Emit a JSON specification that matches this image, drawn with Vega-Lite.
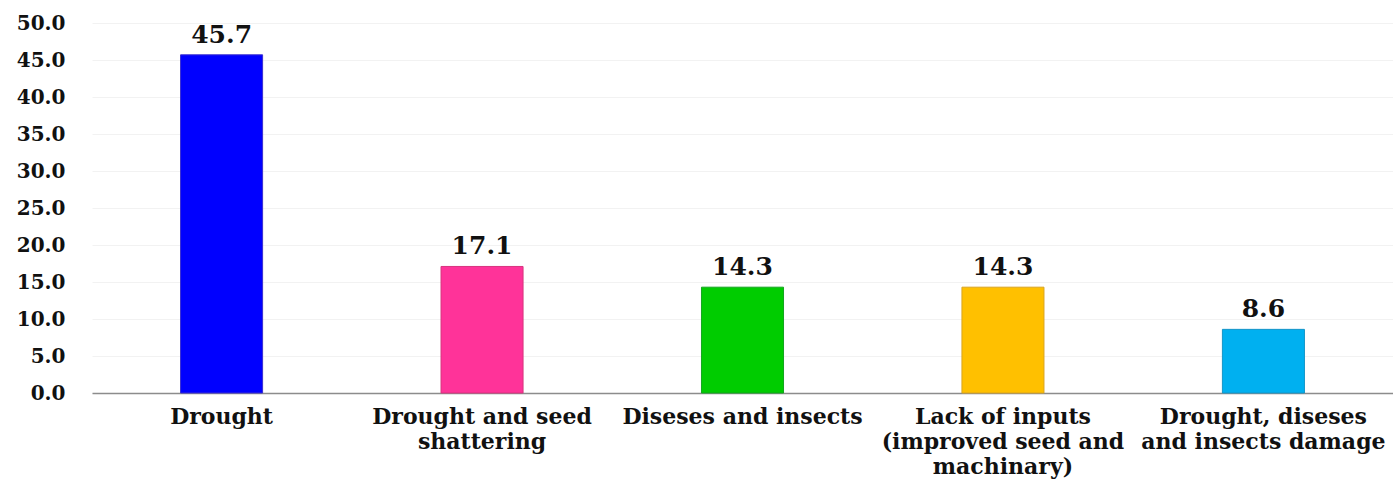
{
  "$schema": "https://vega.github.io/schema/vega-lite/v6.json",
  "autosize": "none",
  "width": 1301,
  "height": 370,
  "padding": {"left": 92, "top": 23, "right": 0, "bottom": 91},
  "background": "white",
  "config": {
    "view": {"stroke": null},
    "font": "DejaVu Serif"
  },
  "data": {
    "values": [
      {"cause": "Drought", "label": "Drought", "percent": 45.7},
      {"cause": "Drought and seed shattering", "label": "Drought and seed|shattering", "percent": 17.1},
      {"cause": "Diseses and insects", "label": "Diseses and insects", "percent": 14.3},
      {"cause": "Lack of inputs (improved seed and machinary)", "label": "Lack of inputs|(improved seed and|machinary)", "percent": 14.3},
      {"cause": "Drought, diseses and insects damage", "label": "Drought, diseses|and insects damage", "percent": 8.6}
    ]
  },
  "encoding": {
    "x": {
      "field": "label",
      "type": "nominal",
      "sort": null,
      "scale": {"paddingInner": 0.685, "paddingOuter": 0.34},
      "axis": {
        "title": null,
        "labelAngle": 0,
        "labelExpr": "split(datum.label, '|')",
        "labelFont": "DejaVu Serif",
        "labelFontWeight": "bold",
        "labelFontSize": 22,
        "labelColor": "#111111",
        "labelLineHeight": 25,
        "labelPadding": 13,
        "labelBaseline": "top",
        "labelLimit": 0,
        "labelOverlap": false,
        "labelBound": false,
        "labelFlush": false,
        "ticks": false,
        "domainColor": "#8c8c8c",
        "domainWidth": 1.5,
        "grid": false
      }
    },
    "y": {
      "field": "percent",
      "type": "quantitative",
      "scale": {"domain": [0, 50], "nice": false},
      "axis": {
        "title": null,
        "values": [0, 5, 10, 15, 20, 25, 30, 35, 40, 45, 50],
        "format": ".1f",
        "labelFont": "DejaVu Serif",
        "labelFontWeight": "bold",
        "labelFontSize": 20,
        "labelColor": "#111111",
        "labelPadding": 27,
        "ticks": false,
        "domain": false,
        "grid": true,
        "gridColor": "#f2f2f2",
        "gridWidth": 1
      }
    }
  },
  "layer": [
    {
      "mark": {"type": "bar", "strokeWidth": 1},
      "encoding": {
        "color": {
          "field": "label",
          "type": "nominal",
          "sort": null,
          "legend": null,
          "scale": {"range": ["#0000FF", "#FF3399", "#00CC00", "#FFC000", "#00B0F0"]}
        },
        "stroke": {
          "field": "label",
          "type": "nominal",
          "sort": null,
          "legend": null,
          "scale": {"range": ["#3a2fd0", "#d8337f", "#13a51f", "#d9a420", "#1495c8"]}
        }
      }
    },
    {
      "mark": {
        "type": "text",
        "baseline": "bottom",
        "dy": -7,
        "font": "DejaVu Serif",
        "fontWeight": "bold",
        "fontSize": 25,
        "color": "#111111"
      },
      "encoding": {
        "text": {"field": "percent", "type": "quantitative", "format": ".1f"}
      }
    }
  ]
}
